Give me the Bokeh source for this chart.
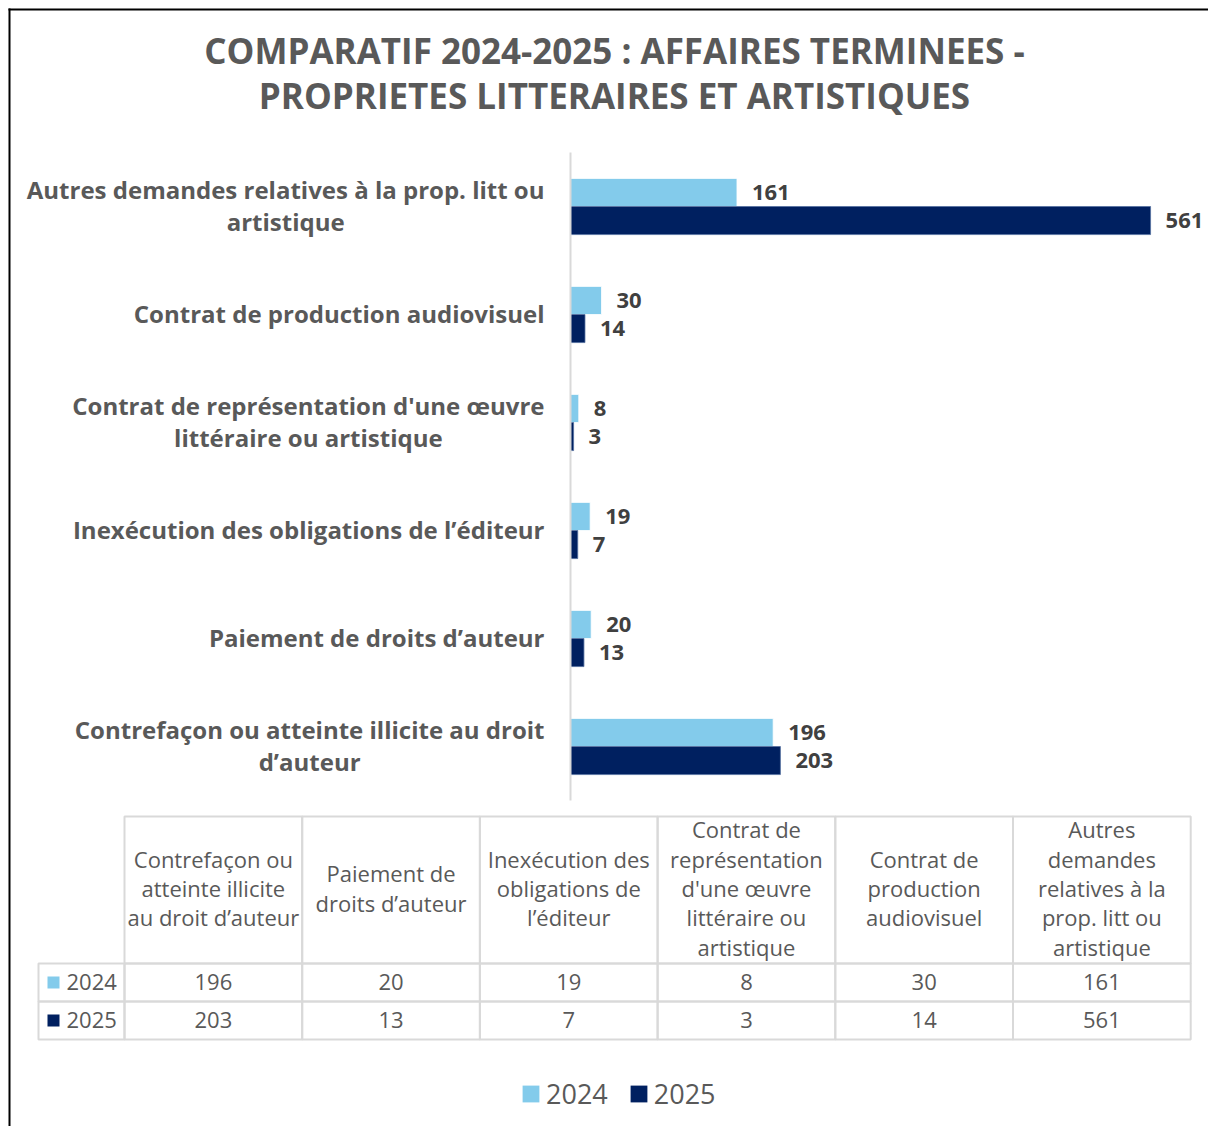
from bokeh.plotting import figure
from bokeh.models import Range1d, ColumnDataSource, Legend, LegendItem
from bokeh.embed import file_html
from bokeh.resources import INLINE
from bokeh.core.properties import value

# ---------------- data ----------------
categories = [
    "Contrefaçon ou atteinte illicite au droit d’auteur",
    "Paiement de droits d’auteur",
    "Inexécution des obligations de l’éditeur",
    "Contrat de représentation d'une œuvre littéraire ou artistique",
    "Contrat de production audiovisuel",
    "Autres demandes relatives à la prop. litt ou artistique",
]
chart_labels = [
    "Contrefaçon ou atteinte illicite au droit\nd’auteur",
    "Paiement de droits d’auteur",
    "Inexécution des obligations de l’éditeur",
    "Contrat de représentation d'une œuvre\nlittéraire ou artistique",
    "Contrat de production audiovisuel",
    "Autres demandes relatives à la prop. litt ou\nartistique",
]
table_headers = [
    "Contrefaçon ou\natteinte illicite\nau droit d’auteur",
    "Paiement de\ndroits d’auteur",
    "Inexécution des\nobligations de\nl’éditeur",
    "Contrat de\nreprésentation\nd'une œuvre\nlittéraire ou\nartistique",
    "Contrat de\nproduction\naudiovisuel",
    "Autres\ndemandes\nrelatives à la\nprop. litt ou\nartistique",
]
years = ["2024", "2025"]
values_2024 = [196, 20, 19, 8, 30, 161]
values_2025 = [203, 13, 7, 3, 14, 561]
title_lines = ["COMPARATIF 2024-2025 : AFFAIRES TERMINEES -",
               "PROPRIETES LITTERAIRES ET ARTISTIQUES"]

# ---------------- style / layout constants ----------------
FONT = "Open Sans"
GRAY = "#595959"
DARK = "#404040"
C24 = "#83CBEB"
C25 = "#002060"
GRID = "#D9D9D9"

W, H = 1208, 1126
AXIS_X = 570          # pixel x of value 0
PX_PER_VAL = 1.034    # pixels per case
CAT_STEP = 108        # pixels per category band
CAT0_Y = 746          # pixel y of the first (bottom) category centre
BAR_H = 0.26          # bar thickness, in category bands

TAB_X0 = 124          # pixel x of the first data column
COL_PX = 177.7        # pixel width of a table column
ROW_PX = 38           # pixel height of a table row
TAB_Y0 = 1039         # pixel y of the table bottom
LAB = 0.484           # width of the row-label column (column units)
HEAD_TOP = 5.868      # header spans rows 2 .. HEAD_TOP

p = figure(width=W, height=H,
           x_range=Range1d(-AXIS_X / PX_PER_VAL, (W - AXIS_X) / PX_PER_VAL),
           y_range=Range1d(-(H - CAT0_Y) / CAT_STEP, CAT0_Y / CAT_STEP),
           output_backend="svg", toolbar_location=None, min_border=0)
p.extra_x_ranges = {
    "tx": Range1d(-TAB_X0 / COL_PX, (W - TAB_X0) / COL_PX),
    "px": Range1d(0, W),
}
p.extra_y_ranges = {
    "ty": Range1d(-(H - TAB_Y0) / ROW_PX, TAB_Y0 / ROW_PX),
    "py": Range1d(H, 0),
}
p.xaxis.visible = False
p.yaxis.visible = False
p.grid.visible = False
p.outline_line_color = None
p.title.visible = False

# ---------------- bar chart ----------------
ypos = list(range(len(categories)))
src = ColumnDataSource(dict(
    y=ypos,
    y24=[y + BAR_H / 2 for y in ypos], y25=[y - BAR_H / 2 for y in ypos],
    v24=values_2024, v25=values_2025,
    t24=[str(v) for v in values_2024], t25=[str(v) for v in values_2025],
    lab=chart_labels,
))
p.hbar(y="y24", left=0, right="v24", height=BAR_H, source=src,
       fill_color=C24, line_color="white", line_width=0.8)
p.hbar(y="y25", left=0, right="v25", height=BAR_H, source=src,
       fill_color=C25, line_color="#5470A0", line_width=0.8)
for yy, col in (("y24", "t24"), ("y25", "t25")):
    p.text(x="v" + col[1:], y=yy, text=col, source=src, x_offset=15,
           text_align="left", text_baseline="middle",
           text_font=value(FONT), text_font_style="bold", text_font_size="22px",
           text_color=DARK)

# value axis line and category labels
p.segment(x0=0, x1=0, y0=-0.5, y1=len(categories) - 0.5, line_color=GRID, line_width=2)
p.text(x=0, y="y", text="lab", source=src, x_offset=-26, y_offset=-1, anchor="center_right",
       text_align="center", text_baseline="middle",
       text_font=value(FONT), text_font_style="bold", text_font_size="24px",
       text_color=GRAY, text_line_height=0.95)

# ---------------- title ----------------
p.text(x=[614, 614], y=[50, 95], text=title_lines, x_range_name="px", y_range_name="py",
       text_align="center", text_baseline="middle",
       text_font=value(FONT), text_font_style="bold", text_font_size="35px", text_color=GRAY)

# frame lines of the picture
p.segment(x0=[9, 8], y0=[8, 9], x1=[9, W], y1=[H, 9], x_range_name="px", y_range_name="py",
          line_color="black", line_width=2)

# ---------------- table ----------------
idx = list(range(len(categories)))
p.quad(left=idx, right=[i + 1 for i in idx], bottom=2, top=HEAD_TOP,
       x_range_name="tx", y_range_name="ty", fill_color=None, line_color=GRID, line_width=2)
for row in (1, 0):
    p.quad(left=[-LAB] + idx, right=[0] + [i + 1 for i in idx], bottom=row, top=row + 1,
           x_range_name="tx", y_range_name="ty", fill_color=None, line_color=GRID, line_width=2)

p.text(x=[i + 0.5 for i in idx], y=(2 + HEAD_TOP) / 2, text=table_headers, y_offset=-2,
       x_range_name="tx", y_range_name="ty",
       text_align="center", text_baseline="middle", text_font=value(FONT),
       text_font_size="22px", text_color=GRAY, text_line_height=0.98)
for row, vals in ((1, values_2024), (0, values_2025)):
    p.text(x=[i + 0.5 for i in idx], y=row + 0.5, text=[str(v) for v in vals], y_offset=-1,
           x_range_name="tx", y_range_name="ty",
           text_align="center", text_baseline="middle", text_font=value(FONT),
           text_font_size="22px", text_color=GRAY)

sq_x = -LAB + 15 / COL_PX
r24 = p.rect(x=[sq_x], y=[1.5], width=12, height=12, width_units="screen", height_units="screen",
             x_range_name="tx", y_range_name="ty", fill_color=C24, line_color=None)
r25 = p.rect(x=[sq_x], y=[0.5], width=12, height=12, width_units="screen", height_units="screen",
             x_range_name="tx", y_range_name="ty", fill_color=C25, line_color=None)
p.text(x=-LAB, y=[1.5, 0.5], text=years, x_offset=28, y_offset=-1,
       x_range_name="tx", y_range_name="ty",
       text_align="left", text_baseline="middle",
       text_font=value(FONT), text_font_size="22px", text_color=GRAY)

legend = Legend(items=[LegendItem(label=years[0], renderers=[r24]),
                       LegendItem(label=years[1], renderers=[r25])],
                location=(520, 14), orientation="horizontal",
                glyph_width=21, glyph_height=21, label_standoff=5, spacing=20, padding=0,
                margin=0, border_line_color=None, background_fill_alpha=0,
                label_text_font=FONT, label_text_font_size="27px", label_text_color=GRAY)
p.add_layout(legend)

open("out.html", "w").write(file_html(p, INLINE))
